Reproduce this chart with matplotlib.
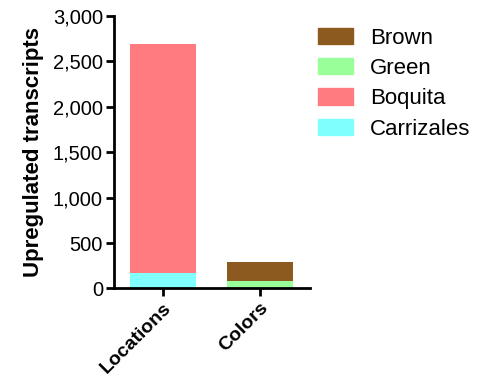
import matplotlib.pyplot as plt
from matplotlib.patches import Patch
import numpy as np

plt.rcParams['font.family'] = ['Liberation Sans', 'DejaVu Sans']

groups = ['Locations', 'Colors']
# stacked segments, bottom to top
carrizales = [170, 0]
boquita = [2520, 0]
green = [0, 85]
brown = [0, 205]

col_brown = '#8C5A1E'
col_green = '#99FF99'
col_boquita = '#FF7B7F'
col_carrizales = '#80FFFF'

fig = plt.figure(figsize=(4.82, 3.79), dpi=100)
ax = fig.add_axes([0.2365, 0.239, 0.4065, 0.719])

x = np.arange(len(groups))
w = 0.69
ax.bar(x, carrizales, w, color=col_carrizales)
ax.bar(x, boquita, w, bottom=carrizales, color=col_boquita)
ax.bar(x, green, w, color=col_green)
ax.bar(x, brown, w, bottom=green, color=col_brown)

ax.set_xlim(-0.505, 1.515)
ax.set_ylim(0, 3000)
ax.set_yticks(np.arange(0, 3001, 500))
ax.set_yticklabels([f'{v:,}' for v in range(0, 3001, 500)], fontsize=14.5)
ax.set_xticks(x)
ax.set_xticklabels(groups, rotation=45, ha='right', rotation_mode='anchor',
                   fontsize=14, fontweight='bold')
ax.set_ylabel('Upregulated transcripts', fontsize=16, fontweight='bold', labelpad=6)

for s in ['top', 'right']:
    ax.spines[s].set_visible(False)
for s in ['left', 'bottom']:
    ax.spines[s].set_linewidth(2)
ax.tick_params(width=2, length=6, pad=2)

handles = [Patch(color=col_brown, label='Brown'),
           Patch(color=col_green, label='Green'),
           Patch(color=col_boquita, label='Boquita'),
           Patch(color=col_carrizales, label='Carrizales')]
fig.legend(handles=handles, loc='upper left', bbox_to_anchor=(0.618, 0.98),
           frameon=False, fontsize=16, handlelength=1.6, handleheight=0.75,
           labelspacing=0.42, handletextpad=0.75)

fig.savefig('out.png', dpi=100)
